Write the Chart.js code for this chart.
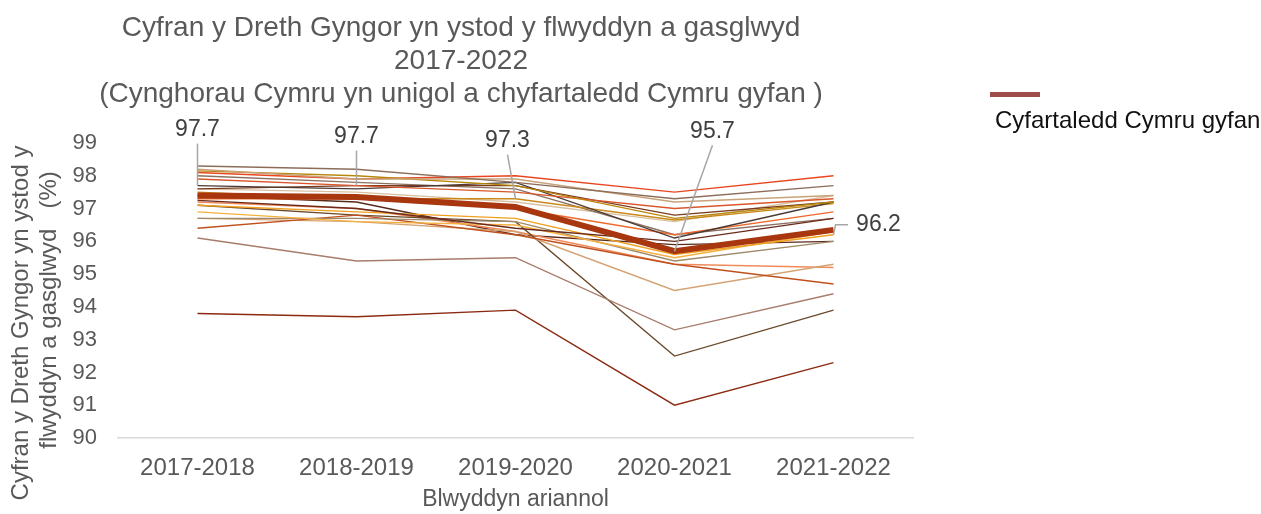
<!DOCTYPE html>
<html>
<head>
<meta charset="utf-8">
<script src="https://cdn.jsdelivr.net/npm/chart.js@4.4.1/dist/chart.umd.min.js"></script>
<style>
  body { margin: 0; background: #fff; }
  .wrap { position: relative; width: 1261px; height: 514px; font-family: "Liberation Sans", Arial, sans-serif; }
  .title { position: absolute; left: 0; width: 922px; top: 10px; text-align: center; color: #595959; font-size: 28px; line-height: 33px; }
  .legend { position: absolute; left: 990px; top: 92px; }
  .legend .swatch { width: 50px; height: 5px; background: #9e4b4b; }
  .legend .text { margin: 9px 0 0 5px; font-size: 24px; color: #111; white-space: nowrap; }
</style>
</head>
<body>
<div class="wrap">
  <canvas id="taxChart" width="1261" height="514"></canvas>
  <div class="title">Cyfran y Dreth Gyngor yn ystod y flwyddyn a gasglwyd<br>2017-2022<br>(Cynghorau Cymru yn unigol a chyfartaledd Cymru gyfan )</div>
  <div class="legend"><div class="swatch"></div><div class="text">Cyfartaledd Cymru gyfan</div></div>
</div>
<script>
const categories = ["2017-2018", "2018-2019", "2019-2020", "2020-2021", "2021-2022"];
const yTicks = [90, 91, 92, 93, 94, 95, 96, 97, 98, 99];

// Wales average (thick line) and the values shown in its callouts
const walesAverage = [97.4, 97.35, 97.05, 95.7, 96.35];
const averageLabels = [97.7, 97.7, 97.3, 95.7, 96.2];

// individual councils
const councils = [
  [98.3, 98.2, 97.8, 97.3, 97.7],
  [98.2, 97.9, 97.9, 97.2, 97.4],
  [98.15, 98.0, 97.7, 96.7, 97.2],
  [98.1, 97.9, 98.0, 97.5, 98.0],
  [97.9, 97.7, 97.5, 97.0, 97.3],
  [97.7, 97.6, 97.8, 96.1, 97.2],
  [97.6, 97.7, 97.7, 96.8, 97.2],
  [97.5, 97.3, 97.3, 96.65, 97.15],
  [97.3, 97.3, 97.0, 96.2, 96.9],
  [97.25, 97.0, 96.4, 96.0, 96.7],
  [97.1, 96.9, 96.7, 95.6, 96.2],
  [96.9, 96.6, 96.5, 95.5, 96.3],
  [96.7, 96.7, 96.6, 95.4, 96.0],
  [96.4, 96.8, 96.2, 95.3, 94.7],
  [96.7, 96.6, 96.3, 94.5, 95.3],
  [96.1, 95.4, 95.5, 93.3, 94.4],
  [93.8, 93.7, 93.9, 91.0, 92.3],
  [97.1, 96.8, 96.6, 92.5, 93.9],
  [97.2, 97.0, 96.3, 95.3, 95.2],
  [97.4, 97.2, 96.2, 95.9, 96.0],
  [98.0, 97.8, 97.6, 96.2, 96.7],
  [97.6, 97.5, 97.2, 96.6, 97.4]
];
const councilColours = [
  "#8c6d5a", "#c8a27a", "#b8860b", "#e8461e", "#d9572b", "#4a3a35",
  "#7a3b1e", "#c98a1a", "#ee6a2c", "#6b2a1a", "#f0a020", "#f5b041",
  "#9e8a6a", "#c0501e", "#d4a373", "#a87c6b", "#8b2a10", "#6b4a2b",
  "#f08a5a", "#5a2a1a", "#8a7060", "#d8c0a0"
];

// callout placement for each average label: offset of text centre from the point
const labelOffsets = [[0, -56], [0, -49], [-8, -58], [38, -120], [45, -10]];

const grey = "#595959";
const font = '"Liberation Sans", Arial, sans-serif';

const datasets = [
  {
    label: "Cyfartaledd Cymru gyfan",
    data: walesAverage,
    borderColor: "#a8360f",
    borderWidth: 6,
    pointRadius: 0,
    tension: 0
  }
];
councils.forEach((values, i) => {
  datasets.push({
    label: "Cyngor " + (i + 1),
    data: values,
    borderColor: councilColours[i],
    borderWidth: 1.4,
    pointRadius: 0,
    tension: 0
  });
});

const calloutPlugin = {
  id: "callouts",
  afterDatasetsDraw(chart) {
    const ctx = chart.ctx;
    const xs = chart.scales.x;
    const ys = chart.scales.y;
    ctx.save();
    ctx.font = "23px " + font;
    ctx.textAlign = "center";
    ctx.textBaseline = "middle";
    averageLabels.forEach((v, i) => {
      const ax = xs.getPixelForValue(i);
      const ay = ys.getPixelForValue(v);
      const tx = ax + labelOffsets[i][0];
      const ty = ay + labelOffsets[i][1];
      const text = v.toFixed(1);
      const w = ctx.measureText(text).width;
      ctx.strokeStyle = "#a6a6a6";
      ctx.lineWidth = 1.5;
      ctx.beginPath();
      ctx.moveTo(ax, ay);
      if (Math.abs(labelOffsets[i][1]) < 20) {
        ctx.lineTo(ax + 2, ty);
        ctx.lineTo(tx - w / 2 - 8, ty);
      } else {
        ctx.lineTo(tx, ty + 14);
      }
      ctx.stroke();
      ctx.fillStyle = "#404040";
      ctx.fillText(text, tx, ty);
    });
    ctx.restore();
  },
  afterDraw(chart) {
    const ctx = chart.ctx;
    const area = chart.chartArea;
    ctx.save();
    ctx.fillStyle = grey;
    ctx.textAlign = "center";
    ctx.textBaseline = "middle";
    ctx.font = "23px " + font;
    ctx.fillText("Blwyddyn ariannol", (area.left + area.right) / 2, 500);
    ctx.font = "24px " + font;
    ctx.save();
    ctx.translate(21, 323);
    ctx.rotate(-Math.PI / 2);
    ctx.fillText("Cyfran y Dreth Gyngor yn ystod y", 0, 0);
    ctx.restore();
    ctx.save();
    ctx.translate(49, 310);
    ctx.rotate(-Math.PI / 2);
    ctx.fillText("flwyddyn a gasglwyd   (%)", 0, 0);
    ctx.restore();
    ctx.restore();
  }
};

new Chart(document.getElementById("taxChart"), {
  type: "line",
  data: { labels: categories, datasets: datasets },
  options: {
    responsive: false,
    animation: false,
    layout: { padding: { left: 0, right: 348, top: 143, bottom: 0 } },
    plugins: {
      legend: { display: false },
      tooltip: { enabled: false }
    },
    scales: {
      x: {
        offset: true,
        grid: { display: false, drawTicks: false },
        border: { display: true, color: "#d9d9d9", width: 1.5 },
        ticks: { color: grey, font: { family: font, size: 24 }, padding: 16, maxRotation: 0 },
        afterFit(scale) { scale.height = 76; }
      },
      y: {
        min: 90,
        max: 99,
        afterBuildTicks(scale) { scale.ticks = yTicks.map(v => ({ value: v })); },
        grid: { display: false, drawTicks: false },
        border: { display: false },
        ticks: { color: grey, font: { family: font, size: 22 }, padding: 21 },
        afterFit(scale) { scale.width = 118; }
      }
    }
  },
  plugins: [calloutPlugin]
});
</script>
</body>
</html>
